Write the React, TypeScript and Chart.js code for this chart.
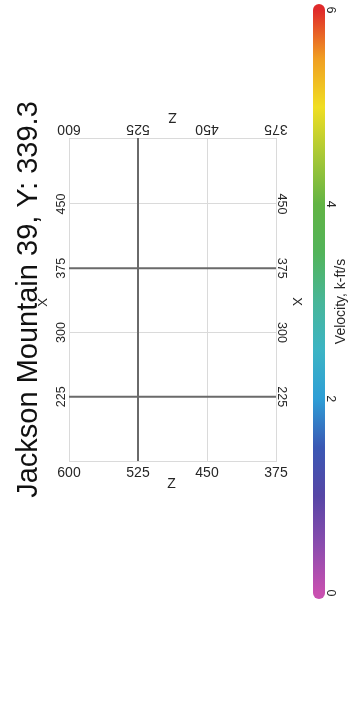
import React, { useEffect, useRef } from 'react';
import { Chart, registerables } from 'chart.js';

Chart.register(...registerables);

// ---- data ----
const TITLE = 'Jackson Mountain 39, Y: 339.3';
const AXIS_Z_TITLE = 'Z';
const AXIS_X_TITLE = 'X';
const CB_TITLE = 'Velocity, k-ft/s';

const Z_RANGE = [375, 600];
const X_RANGE = [150, 527];
const Z_TICKS = [600, 525, 450, 375];
const X_GRID = [150, 225, 300, 375, 450];
const X_TICKS = [450, 375, 300, 225];

const SECTION_Z = [525];
const SECTION_X = [375, 225];

const CB_RANGE = [0, 6];
const CB_TICKS = [0, 2, 4, 6];
const CB_STOPS = [0, 0.5, 1, 1.5, 2, 2.5, 3, 3.5, 4, 4.5, 5, 5.5, 6];
const CB_COLORS = [
  '#c850b0', '#8a4cae', '#5646a6', '#3a58b4', '#2e9ed6', '#3cb4c4', '#48b698',
  '#52b45a', '#62b444', '#a8c836', '#f0de22', '#f09e22', '#e02a2a',
];

// ---- style ----
const FONT = '"Liberation Sans", Arial, sans-serif';
const GRID = '#dadada';
const SECTION = '#6a6a6a';
const TEXT = '#262626';

function txt(
  ctx: CanvasRenderingContext2D, s: string, x: number, y: number, deg: number,
  size: number, color: string, align: CanvasTextAlign = 'center',
) {
  ctx.save();
  ctx.translate(x, y);
  ctx.rotate((deg * Math.PI) / 180);
  ctx.font = `${size}px ${FONT}`;
  ctx.fillStyle = color;
  ctx.textAlign = align;
  ctx.textBaseline = 'alphabetic';
  ctx.fillText(s, 0, 0);
  ctx.restore();
}

const mainText = {
  id: 'mainText',
  afterDraw(chart: any) {
    const { ctx, chartArea: a, scales } = chart;
    const xs = scales.x;
    const ys = scales.y;
    const cx = (a.left + a.right) / 2;
    const cy = (a.top + a.bottom) / 2;
    txt(ctx, TITLE, 37, cy, -90, 29, '#111');
    Z_TICKS.forEach((v) => {
      const px = xs.getPixelForValue(v);
      txt(ctx, String(v), px, a.bottom + 16, 0, 14, TEXT);
      txt(ctx, String(v), px, a.top - 13, 180, 14, TEXT);
    });
    X_TICKS.forEach((v) => {
      const py = ys.getPixelForValue(v);
      txt(ctx, String(v), a.left - 4, py, -90, 12.5, TEXT);
      txt(ctx, String(v), a.right + 2, py, 90, 12.5, TEXT);
    });
    txt(ctx, AXIS_Z_TITLE, cx - 1, a.bottom + 27, 0, 14, TEXT);
    txt(ctx, AXIS_Z_TITLE, cx, a.top - 25, 180, 14, TEXT);
    txt(ctx, AXIS_X_TITLE, a.left - 22, cy + 3, -90, 13, TEXT);
    txt(ctx, AXIS_X_TITLE, a.right + 17, cy + 2, 90, 13, TEXT);
  },
};

const cbText = {
  id: 'cbText',
  afterDraw(chart: any) {
    const { ctx, scales } = chart;
    const ys = scales.y;
    CB_TICKS.forEach((v) => {
      txt(ctx, String(v), 327, ys.getPixelForValue(v), 90, 12.5, TEXT);
    });
    const mid = ys.getPixelForValue((CB_RANGE[0] + CB_RANGE[1]) / 2);
    txt(ctx, CB_TITLE, 345, mid, -90, 14, TEXT);
  },
};

export default function App() {
  const mainRef = useRef<HTMLCanvasElement>(null);
  const cbRef = useRef<HTMLCanvasElement>(null);

  useEffect(() => {
    document.body.style.margin = '0';
    const sectionStyle = {
      showLine: true,
      borderColor: SECTION,
      borderWidth: 2,
      pointRadius: 0,
      fill: false,
    };
    const datasets = [
      ...SECTION_Z.map((z) => ({
        ...sectionStyle,
        data: [{ x: z, y: X_RANGE[0] }, { x: z, y: X_RANGE[1] }],
      })),
      ...SECTION_X.map((xv) => ({
        ...sectionStyle,
        data: [{ x: Z_RANGE[0], y: xv }, { x: Z_RANGE[1], y: xv }],
      })),
    ];
    const gridOpts = { color: GRID, lineWidth: 1, drawTicks: false };
    const borderOpts = { color: GRID, width: 1 };
    const main = new Chart(mainRef.current!, {
      type: 'scatter',
      data: { datasets: datasets as any },
      options: {
        responsive: false,
        animation: false,
        events: [],
        layout: { padding: { left: 69, right: 352 - 276, top: 138, bottom: 723 - 461 } },
        plugins: { legend: { display: false }, tooltip: { enabled: false }, title: { display: false } },
        scales: {
          x: {
            type: 'linear', position: 'bottom', min: Z_RANGE[0], max: Z_RANGE[1], reverse: true,
            afterBuildTicks: (axis: any) => { axis.ticks = Z_TICKS.map((v) => ({ value: v })); },
            ticks: { display: false }, grid: gridOpts, border: borderOpts,
          },
          y: {
            type: 'linear', position: 'left', min: X_RANGE[0], max: X_RANGE[1],
            afterBuildTicks: (axis: any) => { axis.ticks = X_GRID.map((v) => ({ value: v })); },
            ticks: { display: false }, grid: gridOpts, border: borderOpts,
          },
          x2: {
            type: 'linear', position: 'top', min: Z_RANGE[0], max: Z_RANGE[1], reverse: true,
            ticks: { display: false }, grid: { display: false, drawTicks: false }, border: borderOpts,
          },
          y2: {
            type: 'linear', position: 'right', min: X_RANGE[0], max: X_RANGE[1],
            ticks: { display: false }, grid: { display: false, drawTicks: false }, border: borderOpts,
          },
        },
      } as any,
      plugins: [mainText],
    });

    const cb = new Chart(cbRef.current!, {
      type: 'scatter',
      data: {
        datasets: [{
          data: CB_RANGE.map((v) => ({ x: 0, y: v })),
          showLine: true,
          borderWidth: 12,
          borderCapStyle: 'round',
          pointRadius: 0,
          clip: false,
          borderColor: (c: any) => {
            const ch = c.chart;
            const ys = ch.scales && ch.scales.y;
            if (!ch.chartArea || !ys) return CB_COLORS[0];
            const g = ch.ctx.createLinearGradient(
              0, ys.getPixelForValue(CB_RANGE[0]), 0, ys.getPixelForValue(CB_RANGE[1]),
            );
            CB_STOPS.forEach((v, i) => {
              g.addColorStop((v - CB_RANGE[0]) / (CB_RANGE[1] - CB_RANGE[0]), CB_COLORS[i]);
            });
            return g;
          },
        }] as any,
      },
      options: {
        responsive: false,
        animation: false,
        events: [],
        layout: { padding: { left: 313, right: 352 - 325, top: 10, bottom: 723 - 593 } },
        plugins: { legend: { display: false }, tooltip: { enabled: false } },
        scales: {
          x: { type: 'linear', display: false, min: -1, max: 1 },
          y: { type: 'linear', display: false, min: CB_RANGE[0], max: CB_RANGE[1] },
        },
      } as any,
      plugins: [cbText],
    });

    return () => {
      main.destroy();
      cb.destroy();
    };
  }, []);

  const canvasStyle: React.CSSProperties = {
    position: 'absolute', left: 0, top: 0, width: 352, height: 723,
  };
  return (
    <div style={{ position: 'absolute', left: 0, top: 0, width: 352, height: 723, background: '#fff' }}>
      <canvas ref={mainRef} width={352} height={723} style={canvasStyle} />
      <canvas ref={cbRef} width={352} height={723} style={canvasStyle} />
    </div>
  );
}
